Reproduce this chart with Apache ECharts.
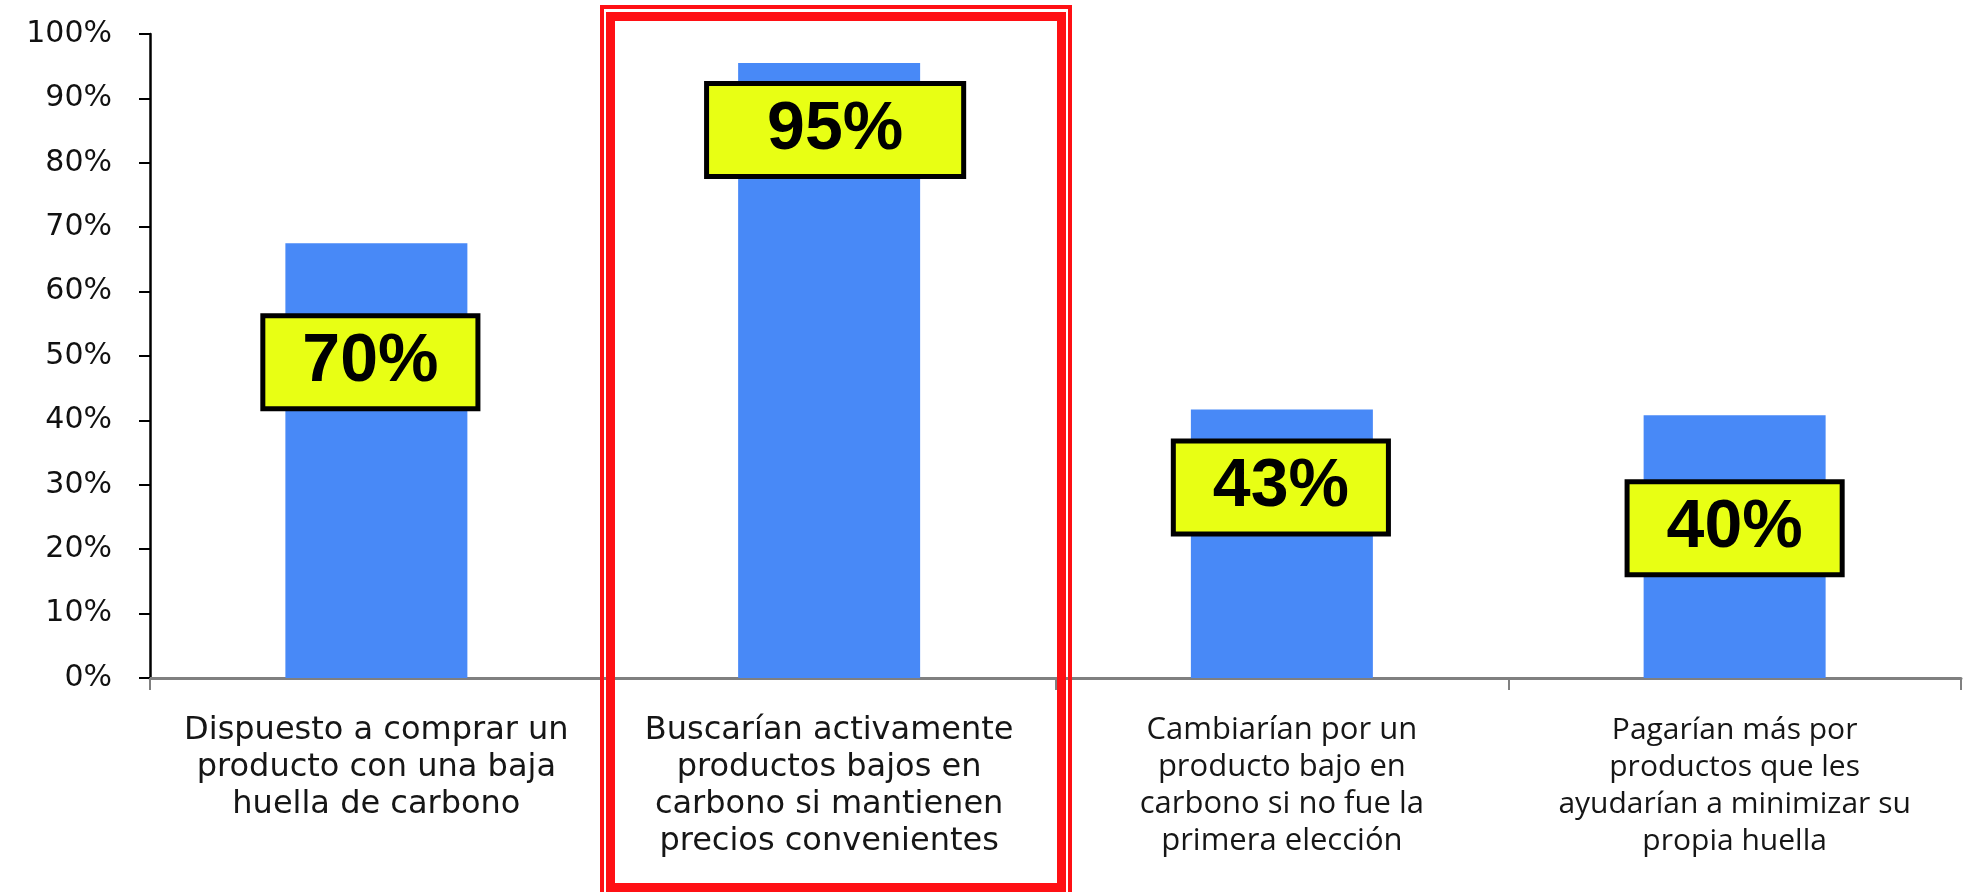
<!DOCTYPE html>
<html>
<head>
<meta charset="utf-8">
<title>Huella de carbono</title>
<script src="https://cdn.jsdelivr.net/npm/echarts@6/dist/echarts.min.js"></script>
<style>
  html, body { margin: 0; padding: 0; background: #fff; }
  #chart { width: 1973px; height: 892px; }
</style>
</head>
<body>
<div id="chart"></div>
<script>
var categories = [
  'Dispuesto a comprar un\nproducto con una baja\nhuella de carbono',
  'Buscarían activamente\nproductos bajos en\ncarbono si mantienen\nprecios convenientes',
  'Cambiarían por un\nproducto bajo en\ncarbono si no fue la\nprimera elección',
  'Pagarían más por\nproductos que les\nayudarían a minimizar su\npropia huella'
];
var values = [67.5, 95.5, 41.7, 40.8];
var boxLabels = ['70%', '95%', '43%', '40%'];
var yMin = 0;
var yMax = 100;
var yStep = 10;

// where each yellow box sits relative to its bar top (px), and its side padding
var boxPlace = [
  { dx: -6, dy: 75, padX: 37 },
  { dx: 6, dy: 23, padX: 58 },
  { dx: -1, dy: 34, padX: 37 },
  { dx: 0, dy: 69, padX: 37 }
];

// first two labels render wide, last two narrower
var catFonts = [
  { fontFamily: 'DejaVu Sans', fontSize: 32 },
  { fontFamily: 'DejaVu Sans', fontSize: 32 },
  { fontFamily: 'Open Sans', fontSize: 31 },
  { fontFamily: 'Open Sans', fontSize: 30 }
];

function initEcharts () {
  var axisData = categories.map(function (c, i) {
    return { value: c, textStyle: catFonts[i] };
  });

  var barData = values.map(function (v, i) {
    var p = boxPlace[i];
    return {
      value: v,
      label: {
        formatter: boxLabels[i],
        offset: [p.dx, p.dy],
        padding: [11, p.padX, 11, p.padX]
      }
    };
  });

  var option = {
    backgroundColor: '#fff',
    animation: false,
    grid: {
      left: 150,
      right: 12,
      top: 34,
      bottom: 214
    },
    xAxis: {
      type: 'category',
      data: axisData,
      axisLine: { show: true, lineStyle: { color: '#808080', width: 3 } },
      axisTick: { show: true, length: 12, lineStyle: { color: '#808080', width: 2 } },
      axisLabel: {
        interval: 0,
        margin: 34,
        lineHeight: 37,
        color: '#161616',
        align: 'center'
      },
      splitLine: { show: false }
    },
    yAxis: {
      type: 'value',
      min: yMin,
      max: yMax,
      interval: yStep,
      axisLine: { show: true, lineStyle: { color: '#000', width: 2.5 } },
      axisTick: { show: true, length: 11, lineStyle: { color: '#000', width: 2 } },
      axisLabel: {
        formatter: '{value}%',
        margin: 38,
        color: '#111',
        fontFamily: 'DejaVu Sans',
        fontSize: 30
      },
      splitLine: { show: false }
    },
    series: [
      {
        type: 'bar',
        data: barData,
        barWidth: 182,
        itemStyle: { color: '#4889f7' },
        label: {
          show: true,
          position: 'insideTop',
          distance: 0,
          color: '#000',
          fontFamily: 'Liberation Sans, Arial',
          fontWeight: 'bold',
          fontSize: 68,
          lineHeight: 66,
          backgroundColor: '#e8ff14',
          borderColor: '#000',
          borderWidth: 5
        }
      }
    ],
    // double red frame around the second category
    graphic: [
      {
        type: 'rect',
        z: 100,
        shape: { x: 602, y: 7, width: 468, height: 900 },
        style: { fill: 'none', stroke: '#ff1014', lineWidth: 4 }
      },
      {
        type: 'rect',
        z: 100,
        shape: { x: 610.5, y: 16.5, width: 451, height: 871 },
        style: { fill: 'none', stroke: '#ff1014', lineWidth: 9 }
      }
    ]
  };

  var myChart = echarts.init(document.getElementById('chart'));
  myChart.setOption(option);
}

initEcharts();
</script>
</body>
</html>
